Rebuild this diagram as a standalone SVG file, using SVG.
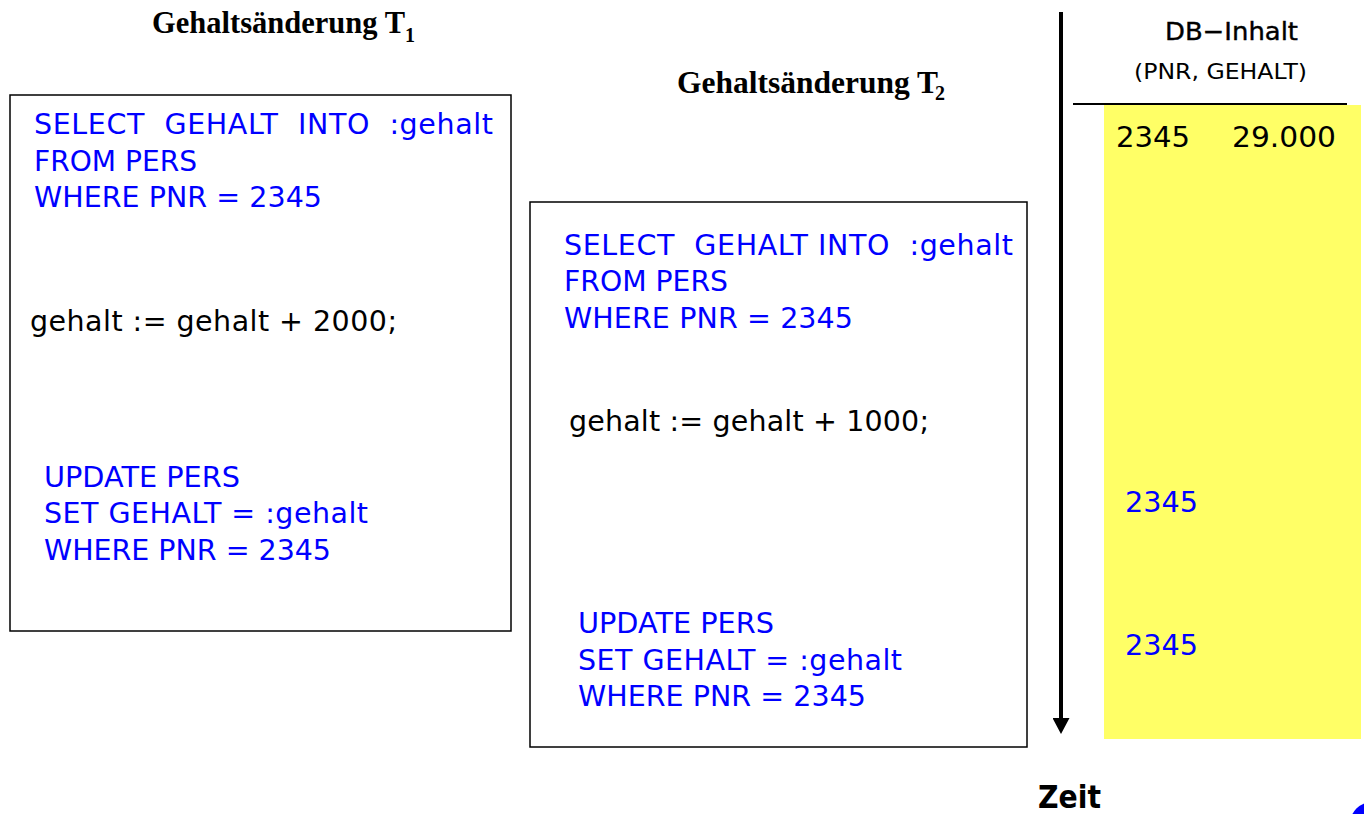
<svg xmlns="http://www.w3.org/2000/svg" width="1364" height="814" viewBox="0 0 1364 814">
<style>
.t{font-family:"DejaVu Sans","Liberation Sans",sans-serif;font-size:28.5px;white-space:pre}
.b{fill:#0000ff}
.k{fill:#000}
.h{font-family:"Liberation Serif","Times New Roman",serif;font-weight:bold;font-size:31px;fill:#000}
.sub{font-size:20px}
.box{fill:#fff;stroke:#000;stroke-width:1.5}
</style>
<defs>
<marker id="ah" markerWidth="16" markerHeight="17" refX="2" refY="8.5" orient="auto" markerUnits="userSpaceOnUse">
<path d="M0,0 L16,8.5 L0,17 Z" fill="#000"/>
</marker>
</defs>
<rect width="1364" height="814" fill="#fff"/>
<g id="db-column">
<rect x="1104" y="105" width="257" height="634" fill="#ffff66"/>
<line x1="1073" y1="104" x2="1347" y2="104" stroke="#000" stroke-width="2"/>
<text x="1165" y="40" class="t k" style="font-size:25px;stroke:#000;stroke-width:0.4" textLength="133" lengthAdjust="spacingAndGlyphs">DB−Inhalt</text>
<text x="1134" y="79" class="t k" style="font-size:21px" textLength="173" lengthAdjust="spacingAndGlyphs">(PNR, GEHALT)</text>
<text x="1116" y="147" class="t k" textLength="74" lengthAdjust="spacingAndGlyphs">2345</text>
<text x="1232" y="147" class="t k" textLength="104" lengthAdjust="spacingAndGlyphs">29.000</text>
<text x="1125" y="512" class="t b" textLength="73" lengthAdjust="spacingAndGlyphs">2345</text>
<text x="1125" y="655" class="t b" textLength="73" lengthAdjust="spacingAndGlyphs">2345</text>
</g>
<g id="connectors">
<line x1="1061" y1="12" x2="1061" y2="720" stroke="#000" stroke-width="4" marker-end="url(#ah)"/>
</g>
<g id="zeit">
<text x="1038" y="808" class="t k" style="font-size:32px;font-weight:bold" textLength="63" lengthAdjust="spacingAndGlyphs">Zeit</text>
</g>
<g id="t1-title">
<text x="152" y="33" class="h" textLength="253" lengthAdjust="spacingAndGlyphs">Gehaltsänderung T</text>
<text x="405" y="42" class="h sub">1</text>
</g>
<g id="t2-title">
<text x="677" y="93" class="h" textLength="261" lengthAdjust="spacingAndGlyphs">Gehaltsänderung T</text>
<text x="935" y="100" class="h sub">2</text>
</g>
<g id="t1-box">
<rect x="10" y="95" width="501" height="536" class="box"/>
<text x="34" y="134" class="t b" xml:space="preserve" textLength="459" lengthAdjust="spacing">SELECT  GEHALT  INTO  :gehalt</text>
<text x="34" y="171" class="t b" textLength="163" lengthAdjust="spacingAndGlyphs">FROM PERS</text>
<text x="34" y="207" class="t b" textLength="288" lengthAdjust="spacing">WHERE PNR = 2345</text>
<text x="30" y="331" class="t k" textLength="367" lengthAdjust="spacing">gehalt := gehalt + 2000;</text>
<text x="44" y="487" class="t b" textLength="196" lengthAdjust="spacingAndGlyphs">UPDATE PERS</text>
<text x="44" y="523" class="t b" textLength="324" lengthAdjust="spacing">SET GEHALT = :gehalt</text>
<text x="44" y="560" class="t b" textLength="287" lengthAdjust="spacing">WHERE PNR = 2345</text>
</g>
<g id="t2-box">
<rect x="530" y="202" width="497" height="545" class="box"/>
<text x="564" y="255" class="t b" xml:space="preserve" textLength="449" lengthAdjust="spacing">SELECT  GEHALT INTO  :gehalt</text>
<text x="564" y="291" class="t b" textLength="164" lengthAdjust="spacingAndGlyphs">FROM PERS</text>
<text x="564" y="328" class="t b" textLength="289" lengthAdjust="spacing">WHERE PNR = 2345</text>
<text x="569" y="431" class="t k" textLength="360" lengthAdjust="spacing">gehalt := gehalt + 1000;</text>
<text x="578" y="633" class="t b" textLength="196" lengthAdjust="spacingAndGlyphs">UPDATE PERS</text>
<text x="578" y="670" class="t b" textLength="324" lengthAdjust="spacing">SET GEHALT = :gehalt</text>
<text x="578" y="706" class="t b" textLength="288" lengthAdjust="spacing">WHERE PNR = 2345</text>
</g>
<g id="corner-mark">
<circle cx="1372" cy="824" r="22" fill="#0000ff"/>
</g>
</svg>
